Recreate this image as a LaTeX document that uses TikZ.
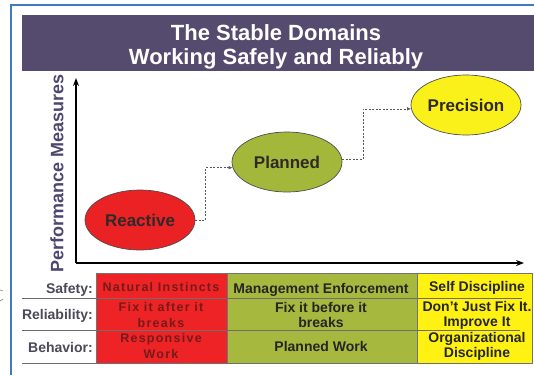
\documentclass[tikz,border=0pt]{standalone}
\usepackage{fontspec}
\setmainfont{Liberation Sans}
\newfontfamily\spacedfont[LetterSpace=10]{Liberation Sans}
\usetikzlibrary{shapes.geometric,arrows.meta}

\definecolor{frameblue}{HTML}{3C7DBE}
\definecolor{band}{HTML}{554B6E}
\definecolor{axislabel}{HTML}{4E4670}
\definecolor{reactred}{HTML}{EA2224}
\definecolor{planolive}{HTML}{A3B73A}
\definecolor{precyellow}{HTML}{FAF01A}
\definecolor{cellred}{HTML}{EE2325}
\definecolor{cellolive}{HTML}{A6B83D}
\definecolor{cellyellow}{HTML}{FFF212}
\definecolor{ink}{HTML}{2E2A2A}
\definecolor{labelgray}{HTML}{4A4A58}
\definecolor{darkred}{HTML}{761A1A}
\definecolor{rulegray}{HTML}{6E6E6E}

\begin{document}
\begin{tikzpicture}[x=1pt,y=-1pt,
  stagebubble/.style={ellipse, draw=black!70, line width=0.7pt,
    minimum width=110pt, minimum height=60pt, inner sep=0pt,
    font=\bfseries\fontsize{17}{19}\selectfont, text=ink},
  axisline/.style={line width=1.4pt, -{Stealth[length=8pt,width=6pt]}},
  conn/.style={draw=black!65, line width=0.6pt, dash pattern=on 2pt off 1.5pt,
    -{Latex[length=4pt,width=3.5pt]}},
  rowlabel/.style={anchor=east, inner sep=0pt, text=labelgray,
    font=\bfseries\fontsize{14}{15}\selectfont},
  celltext/.style={align=center, inner sep=0pt, text=black!85,
    font=\bfseries\fontsize{14}{15}\selectfont},
  redtext/.style={align=center, inner sep=0pt, text=darkred,
    font=\spacedfont\bfseries\fontsize{12.5}{15.5}\selectfont},
  titletext/.style={anchor=base, inner sep=0pt, text=white,
    font=\bfseries\fontsize{22}{24}\selectfont},
  cellbox/.style={draw=black!55, line width=0.6pt},
  rowrule/.style={draw=rulegray, line width=0.9pt}]

\useasboundingbox (0,0) rectangle (534,375);
\fill[white] (0,0) rectangle (534,375);

% outer blue frame
\draw[frameblue, line width=2pt] (11,375) -- (11,5) -- (534,5);
% small marks outside the frame
\draw[black!50, line width=0.6pt] (0,290) -- (3,291);
\draw[black!50, line width=0.6pt] (0,301) -- (3,299);

% title band
\fill[band] (22,15) rectangle (534,71);
\node[titletext] (title1) at (276,40) {The Stable Domains};
\node[titletext] (title2) at (276,64) {Working Safely and Reliably};

% axes
\coordinate (origin) at (76,263);
\coordinate (ytop) at (76,78);
\coordinate (xend) at (524,263);
\draw[axisline] (origin) -- (ytop);
\draw[axisline] (origin) -- (xend);
\node[rotate=90, inner sep=0pt, text=axislabel,
  font=\bfseries\fontsize{18}{20}\selectfont] (ylabel) at (57,173) {Performance Measures};

% domains
\node[stagebubble, fill=reactred] (reactive) at (140,220) {Reactive};
\node[stagebubble, fill=planolive] (planned) at (287,162) {Planned};
\node[stagebubble, fill=precyellow] (precision) at (466,105) {Precision};

% step connectors
\draw[conn] (reactive.east) -- ++(10,0) |- (planned.186);
\draw[conn] (planned.3) -- ++(21,0) |- (precision.184);

% table cells
\filldraw[cellbox, fill=cellred] (96,273) rectangle (227,363);
\filldraw[cellbox, fill=cellolive] (227,273) rectangle (417,363);
\filldraw[cellbox, fill=cellyellow] (417,273) rectangle (532,363);

% row rules
\draw[rowrule] (22,298) -- (522,298);
\draw[rowrule] (22,330) -- (520,330);
\draw[rowrule] (22,363) -- (527,363);

% row labels
\node[rowlabel] (lsafety) at (93,290) {Safety:};
\node[rowlabel] (lreliab) at (93,316) {Reliability:};
\node[rowlabel] (lbehav) at (93,347) {Behavior:};

% reactive column
\node[redtext] (r1) at (161,287) {Natural Instincts};
\node[redtext] (r2) at (161,315) {Fix it after it\\breaks};
\node[redtext] (r3) at (161,346) {Responsive\\Work};

% planned column
\node[celltext] (p1) at (321,290) {Management Enforcement};
\node[celltext] (p2) at (321,315) {Fix it before it\\breaks};
\node[celltext] (p3) at (321,346) {Planned Work};

% precision column
\node[celltext] (s1) at (477,288) {Self Discipline};
\node[celltext] (s2) at (477,315) {Don't Just Fix It.\\Improve It};
\node[celltext] (s3) at (477,346) {Organizational\\Discipline};

\end{tikzpicture}
\end{document}
